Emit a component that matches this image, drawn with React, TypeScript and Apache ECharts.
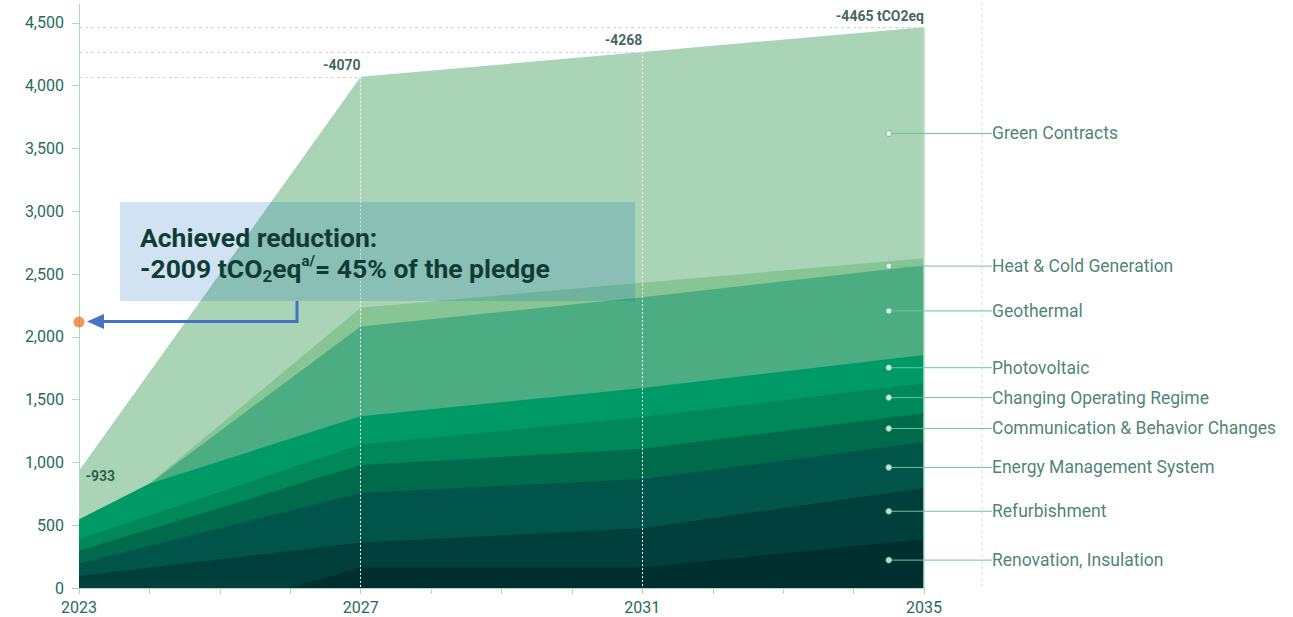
import React, { useEffect, useRef } from 'react';
import * as echarts from 'echarts';

// ---- data (tCO2eq, cumulative top of every band) ----
const labelYears = [2023, 2027, 2031, 2035];
const yTicks = [0, 500, 1000, 1500, 2000, 2500, 3000, 3500, 4000, 4500];
const totalYears = [2023, 2027, 2031, 2035];
const totals = [933, 4070, 4268, 4465];

const greenContractsTop = [[2023, 933], [2027, 4070], [2031, 4268], [2035, 4465]];
const heatColdTop = [[2023, 545], [2024, 831], [2027, 2232], [2031, 2431], [2035, 2625]];
const geothermalTop = [[2023, 545], [2024, 831], [2027, 2082], [2031, 2315], [2035, 2570]];
const photovoltaicTop = [[2023, 545], [2024, 831], [2027, 1367], [2031, 1592], [2035, 1855]];
const operatingRegimeTop = [[2023, 389], [2027, 1143], [2031, 1362], [2035, 1630]];
const communicationTop = [[2023, 296], [2027, 979], [2031, 1109], [2035, 1391]];
const energyMgmtTop = [[2023, 196], [2027, 757], [2031, 867], [2035, 1161]];
const refurbishmentTop = [[2023, 95], [2027, 362], [2031, 476], [2035, 796]];
const renovationTop = [[2023, 0], [2026, 0], [2027, 163], [2031, 164], [2035, 389]];

const bandNames = [
  'Green Contracts',
  'Heat & Cold Generation',
  'Geothermal',
  'Photovoltaic',
  'Changing Operating Regime',
  'Communication & Behavior Changes',
  'Energy Management System',
  'Refurbishment',
  'Renovation, Insulation',
];
const bandTops = [
  greenContractsTop,
  heatColdTop,
  geothermalTop,
  photovoltaicTop,
  operatingRegimeTop,
  communicationTop,
  energyMgmtTop,
  refurbishmentTop,
  renovationTop,
];
const bandColors = ['#a9d4b5', '#87c595', '#4cad83', '#009a67', '#00885a', '#006b4b', '#005449', '#003f3c', '#002f2f'];

const labelAnchorYear = 2034.5;
const labelAnchorValues = [3619, 2563, 2206, 1754, 1516, 1270, 960, 611, 222];
const achievedMarker = [2023, 2118];

const FONT = 'Roboto, "Noto Sans", sans-serif';
const TEAL = '#1f6c5b';
const LABEL_TEAL = '#196452';
const DARK = '#0d3d34';

export default function App() {
  const ref = useRef<HTMLDivElement>(null);

  useEffect(() => {
    const chart = echarts.init(ref.current!, null, { renderer: 'svg' });

    const areaSeries = bandTops.map((pts, i) => ({
      type: 'line',
      name: bandNames[i],
      data: pts,
      symbol: 'none',
      silent: true,
      lineStyle: { width: 0 },
      itemStyle: { color: bandColors[i] },
      areaStyle: { color: bandColors[i], opacity: 1 },
      z: 2,
    }));

    const refLines: any[] = [];
    totalYears.forEach((yr, i) => {
      if (i > 0) {
        refLines.push([
          { coord: [totalYears[0], totals[i]], lineStyle: { color: '#d3d3d3', type: [3, 3], width: 1 } },
          { coord: [yr, totals[i]] },
        ]);
        const last = i === totalYears.length - 1;
        refLines.push([
          {
            coord: [yr, totals[i]],
            lineStyle: last
              ? { color: '#b8e0c2', type: 'solid', width: 1.5 }
              : { color: '#ffffff', type: [2, 2], width: 1 },
          },
          { coord: [yr, 0] },
        ]);
      }
    });

    const option: any = {
      animation: false,
      grid: { left: 79, right: 369, top: 4, bottom: 29, containLabel: false },
      xAxis: {
        type: 'value',
        min: 2023,
        max: 2035,
        interval: 1,
        axisLine: { show: true, lineStyle: { color: '#a9dcb3', width: 1 } },
        axisTick: { show: true, length: 6, lineStyle: { color: '#a9dcb3' } },
        splitLine: { show: false },
        axisLabel: {
          color: TEAL,
          fontSize: 16,
          fontFamily: FONT,
          margin: 11,
          formatter: (v: number) => (labelYears.includes(v) ? String(v) : ''),
        },
      },
      yAxis: {
        type: 'value',
        min: 0,
        max: 4650,
        interval: 500,
        axisLine: { show: true, lineStyle: { color: '#a9dcb3', width: 1 } },
        axisTick: {
          show: true,
          length: 7,
          lineStyle: { color: '#a9dcb3' },
          customValues: yTicks,
        },
        splitLine: { show: false },
        axisLabel: {
          color: TEAL,
          fontSize: 16,
          fontFamily: FONT,
          margin: 15,
          customValues: yTicks,
          formatter: (v: number) => v.toLocaleString('en-US'),
        },
      },
      series: [
        ...areaSeries,
        {
          type: 'scatter',
          name: 'totals',
          silent: true,
          clip: false,
          symbolSize: 1,
          itemStyle: { color: 'rgba(0,0,0,0)' },
          data: totalYears.map((yr, i) => {
            const first = i === 0;
            return {
              value: [yr, totals[i]],
              label: first
                ? { show: true, position: 'right', distance: 5, offset: [1, 5] }
                : { show: true, position: 'top', align: 'right', distance: 4, offset: [0, 0] },
            };
          }),
          label: {
            show: true,
            color: DARK,
            fontSize: 14,
            fontWeight: 'bold',
            fontFamily: FONT,
            formatter: (p: any) =>
              '-' + p.value[1] + (p.dataIndex === totalYears.length - 1 ? ' tCO2eq' : ''),
          },
          markLine: {
            silent: true,
            symbol: ['none', 'none'],
            label: { show: false },
            data: refLines,
          },
          z: 5,
        },
        {
          type: 'scatter',
          name: 'band labels',
          silent: true,
          symbolSize: 6,
          itemStyle: { color: '#ffffff', borderColor: '#4fb585', borderWidth: 1 },
          data: labelAnchorValues.map((v, i) => ({ value: [labelAnchorYear, v], name: bandNames[i] })),
          label: {
            show: true,
            position: 'right',
            color: LABEL_TEAL,
            fontSize: 17.5,
            fontFamily: FONT,
            padding: [0, 0, 0, 10],
            formatter: (p: any) => p.name,
          },
          labelLayout: (p: any) => ({
            x: 982,
            y: p.rect.y + p.rect.height / 2,
            align: 'left',
            verticalAlign: 'middle',
          }),
          labelLine: { show: true, lineStyle: { color: '#6cc59b', width: 1 } },
          z: 10,
        },
        {
          type: 'scatter',
          name: 'achieved',
          silent: true,
          clip: false,
          symbolSize: 11,
          itemStyle: { color: '#ed7d31' },
          data: [achievedMarker],
          z: 20,
        },
      ],
      graphic: [
        {
          type: 'line',
          shape: { x1: 982, y1: 2, x2: 982, y2: 590 },
          style: { stroke: '#dadada', lineDash: [3, 3], lineWidth: 1 },
          z: 1,
          silent: true,
        },
        {
          type: 'rect',
          shape: { x: 120, y: 202, width: 515, height: 99 },
          style: { fill: 'rgba(0,100,183,0.18)' },
          z: 50,
          silent: true,
        },
        {
          type: 'text',
          x: 140,
          y: 222,
          z: 51,
          silent: true,
          style: {
            text: '{b|Achieved reduction:}\n{b|-2009 tCO}{sub|2}{b|eq}{sup|a/}{b|= 45% of the pledge}',
            rich: {
              b: { fontSize: 26.5, fontWeight: 'bold', fontFamily: FONT, fill: DARK, lineHeight: 31 },
              sub: { fontSize: 17, fontWeight: 'bold', fontFamily: FONT, fill: DARK, lineHeight: 14, verticalAlign: 'bottom' },
              sup: { fontSize: 15, fontWeight: 'bold', fontFamily: FONT, fill: DARK, lineHeight: 16, verticalAlign: 'top' },
            },
          },
        },
        {
          type: 'polyline',
          shape: { points: [[297, 301], [297, 321.5], [103, 321.5]] },
          style: { stroke: '#4472c4', lineWidth: 3, fill: null },
          z: 50,
          silent: true,
        },
        {
          type: 'polygon',
          shape: { points: [[87, 321.5], [104, 314], [104, 329]] },
          style: { fill: '#4472c4' },
          z: 50,
          silent: true,
        },
      ],
    };

    chart.setOption(option);
    return () => chart.dispose();
  }, []);

  return (
    <div
      ref={ref}
      style={{ position: 'fixed', left: 0, top: 0, width: '1293px', height: '617px', background: '#ffffff' }}
    />
  );
}
